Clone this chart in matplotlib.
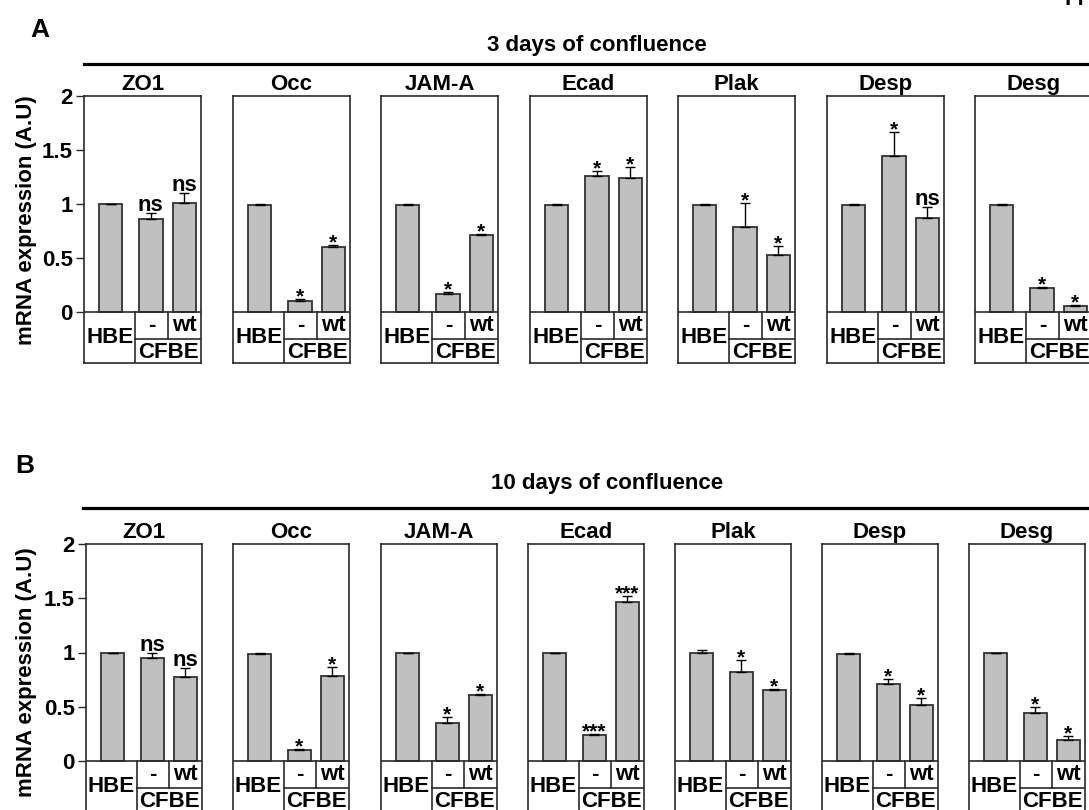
import numpy as np
import matplotlib.pyplot as plt
from matplotlib.lines import Line2D

plt.rcParams['font.family'] = ['Liberation Sans', 'DejaVu Sans']
plt.rcParams['font.weight'] = 'bold'

genes = ["ZO1", "Occ", "JAM-A", "Ecad", "Plak", "Desp", "Desg"]
conds = ["HBE", "-", "wt"]

# A: 3 days of confluence (HBE, CFBE -, CFBE wt)
mean_3d = [[1.00, 0.86, 1.01],
           [0.99, 0.10, 0.60],
           [0.99, 0.165, 0.715],
           [0.99, 1.26, 1.245],
           [0.99, 0.79, 0.525],
           [0.99, 1.44, 0.875],
           [0.99, 0.22, 0.053]]
err_3d = [[0.0, 0.055, 0.09],
          [0.01, 0.02, 0.02],
          [0.01, 0.02, 0.01],
          [0.01, 0.05, 0.10],
          [0.01, 0.22, 0.09],
          [0.01, 0.23, 0.10],
          [0.01, 0.015, 0.01]]
sig_3d = [["", "ns", "ns"],
          ["", "*", "*"],
          ["", "*", "*"],
          ["", "*", "*"],
          ["", "*", "*"],
          ["", "*", "ns"],
          ["", "*", "*"]]

# B: 10 days of confluence
mean_10d = [[1.00, 0.95, 0.77],
            [0.99, 0.10, 0.78],
            [1.00, 0.35, 0.605],
            [1.00, 0.237, 1.47],
            [1.00, 0.82, 0.65],
            [0.99, 0.71, 0.52],
            [1.00, 0.44, 0.19]]
err_10d = [[0.0, 0.045, 0.085],
           [0.01, 0.01, 0.09],
           [0.0, 0.06, 0.01],
           [0.0, 0.01, 0.055],
           [0.02, 0.11, 0.01],
           [0.01, 0.05, 0.065],
           [0.0, 0.055, 0.04]]
sig_10d = [["", "ns", "ns"],
           ["", "*", "*"],
           ["", "*", "*"],
           ["", "***", "***"],
           ["", "*", "*"],
           ["", "*", "*"],
           ["", "*", "*"]]

W, H = 1089, 810
fig = plt.figure(figsize=(W / 100, H / 100), dpi=100)

def add_ax(left, top, width, bottom):
    return fig.add_axes([left / W, 1 - bottom / H, width / W, (bottom - top) / H])

xpos = [0.8, 2.0, 3.0]
div1, div2 = 1.53, 2.5
edge = '#2a2a2a'

def draw_row(lefts, width, top, zero, mid, bottom, means, errs, sigs):
    unit = (zero - top) / 2.0
    ymin = -(bottom - zero) / unit
    ymid = -(mid - zero) / unit
    for i, g in enumerate(genes):
        ax = add_ax(lefts[i], top, width, bottom)
        ax.bar(xpos, means[i], width=0.7, color='#c0c0c0', edgecolor='#333333',
               linewidth=1.3, zorder=2)
        ax.errorbar(xpos, means[i], yerr=[[0, 0, 0], errs[i]], fmt='none',
                    ecolor='black', elinewidth=1, capsize=3.5, capthick=1, zorder=3)
        for j in range(3):
            s = sigs[i][j]
            if s == "":
                continue
            ytop = means[i][j] + errs[i][j]
            if s == "ns":
                ax.annotate(s, (xpos[j], ytop), xytext=(0, 1.5), textcoords='offset points',
                            ha='center', va='baseline', fontsize=16, fontweight='bold')
            else:
                ax.annotate(s, (xpos[j], ytop), xytext=(0, -2.5), textcoords='offset points',
                            ha='center', va='baseline', fontsize=15, fontweight='bold')
        ax.set_xlim(0, 3.5)
        ax.set_ylim(ymin, 2)
        # table under the bars
        ax.axhline(0, color=edge, lw=1.2, zorder=4)
        ax.plot([div1, div1], [ymin, 0], color=edge, lw=1.2)
        ax.plot([div2, div2], [ymid, 0], color=edge, lw=1.2)
        ax.plot([div1, 3.5], [ymid, ymid], color=edge, lw=1.2)
        ax.text(div1 / 2, ymin / 2, "HBE", ha='center', va='center', fontsize=16)
        ax.text((div1 + div2) / 2, ymid / 2, "-", ha='center', va='center', fontsize=16)
        ax.text((div2 + 3.5) / 2, ymid / 2, "wt", ha='center', va='center', fontsize=16)
        ax.text((div1 + 3.5) / 2, (ymid + ymin) / 2 - 0.01, "CFBE", ha='center', va='center',
                fontsize=16)
        for sp in ax.spines.values():
            sp.set_color(edge)
            sp.set_linewidth(1.2)
        ax.set_xticks([])
        if i == 0:
            ax.set_yticks([0, 0.5, 1, 1.5, 2])
            ax.set_yticklabels(['0', '0.5', '1', '1.5', '2'], fontsize=16, fontweight='bold')
            ax.tick_params(axis='y', length=6, width=1, pad=2, color=edge)
        else:
            ax.set_yticks([])
        ax.set_title(g, fontsize=16, fontweight='bold', pad=4.5)

lefts_a = [84, 233, 381, 530, 678, 827, 975]
lefts_b = [86, 233, 381, 528, 675, 822, 969]
draw_row(lefts_a, 117, 96, 312, 339, 363, mean_3d, err_3d, sig_3d)
draw_row(lefts_b, 116, 544, 761, 788, 812, mean_10d, err_10d, sig_10d)

# panel letters, group titles and black bars
fig.text(40 / W, 1 - 30 / H, "A", ha='center', va='center', fontsize=19, fontweight='bold')
fig.text(25 / W, 1 - 466 / H, "B", ha='center', va='center', fontsize=19, fontweight='bold')
fig.text(597 / W, 1 - 46 / H, "3 days of confluence", ha='center', va='center',
         fontsize=16, fontweight='bold')
fig.text(607 / W, 1 - 483 / H, "10 days of confluence", ha='center', va='center',
         fontsize=16, fontweight='bold')
fig.add_artist(Line2D([84 / W, 1.0], [1 - 64 / H, 1 - 64 / H], transform=fig.transFigure,
                      color='black', lw=2.3))
fig.add_artist(Line2D([83 / W, 1.0], [1 - 508 / H, 1 - 508 / H], transform=fig.transFigure,
                      color='black', lw=2.3))
fig.text(27 / W, 1 - 220 / H, "mRNA expression (A.U)", rotation=90, ha='center', va='center',
         fontsize=16, fontweight='bold')
fig.text(27 / W, 1 - 672 / H, "mRNA expression (A.U)", rotation=90, ha='center', va='center',
         fontsize=16, fontweight='bold')
# figure label cut off by the top edge, as in the source
fig.text(1065 / W, 1 - 5 / H, "Fi", ha='left', va='baseline', fontsize=16, fontweight='bold')

fig.savefig("out.png", dpi=100)
